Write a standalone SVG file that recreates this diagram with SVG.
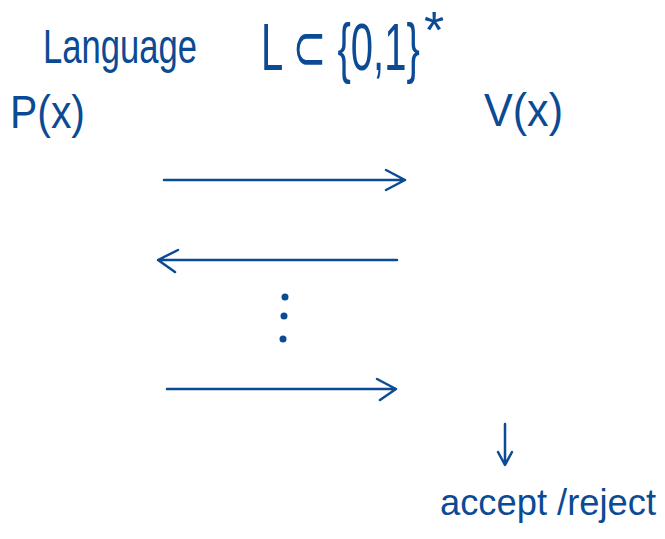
<svg xmlns="http://www.w3.org/2000/svg" width="665" height="539" viewBox="0 0 665 539">
<style>
  .t { font-family: "Liberation Sans", "DejaVu Sans", sans-serif; fill: #0b4a94; }
  .c { stroke: #0b4a94; stroke-width: 2.5; fill: none; stroke-linecap: round; stroke-linejoin: round; }
</style>
<rect width="665" height="539" fill="#ffffff"/>
<g id="language"><text class="t" x="43" y="63" font-size="48" textLength="154" lengthAdjust="spacingAndGlyphs">Language</text></g>
<g id="set"><text class="t" transform="translate(261,70) scale(1,1.65)" x="0" y="0" font-size="40">L ⊂ {0,1}</text><text class="t" x="424" y="48" font-size="52">*</text></g>
<g id="prover"><text class="t" x="10" y="128" font-size="46" textLength="75" lengthAdjust="spacingAndGlyphs">P(x)</text></g>
<g id="verifier"><text class="t" x="484" y="126" font-size="46" textLength="79" lengthAdjust="spacingAndGlyphs">V(x)</text></g>
<g id="connectors">
  <path class="c" d="M164 180 H405 M386 170 L405 180 L386 190"/>
  <path class="c" d="M397 260 H158 M178 250 L158 260 L175 272"/>
  <path class="c" d="M167 389 H396 M377 379 L396 389 L380 400"/>
  <path class="c" d="M505 424 V464 M498 452 L505 465 L512 452"/>
  <circle cx="285" cy="297" r="3.5" fill="#0b4a94"/>
  <circle cx="284" cy="316" r="3.5" fill="#0b4a94"/>
  <circle cx="283" cy="339" r="3.5" fill="#0b4a94"/>
</g>
<g id="result"><text class="t" x="440" y="515" font-size="37" textLength="216" lengthAdjust="spacingAndGlyphs">accept /reject</text></g>
</svg>
